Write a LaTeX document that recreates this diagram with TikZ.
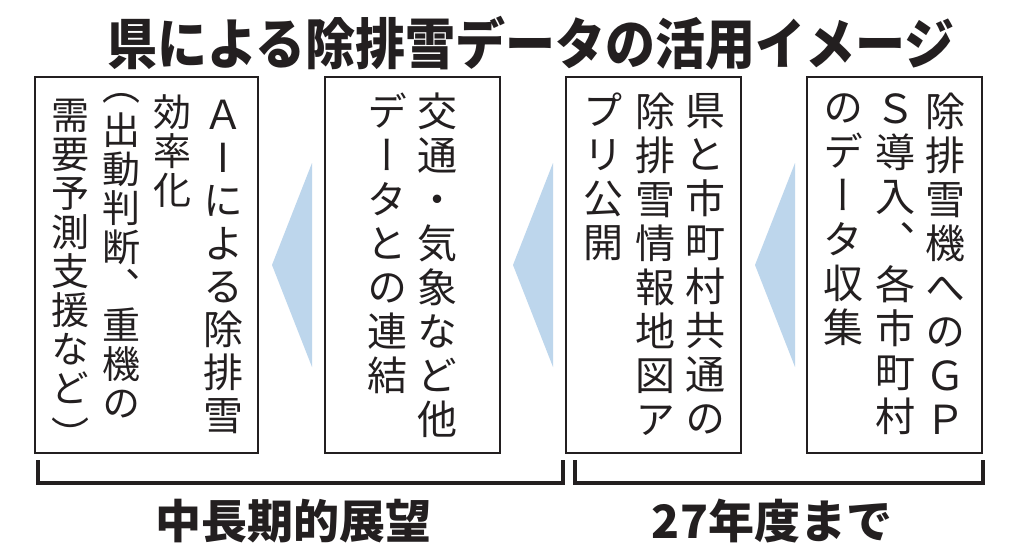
\documentclass[tikz,border=0pt]{standalone}
\usepackage{fontspec}
\newfontfamily\jp{Noto Sans CJK JP}
\newfontfamily\jpv[RawFeature=+vert]{Noto Sans CJK JP}
\definecolor{inkc}{HTML}{231F20}
\definecolor{arrowc}{RGB}{189,214,236}
\begin{document}
\begin{tikzpicture}[x=1pt,y=-1pt,
  box/.style={draw=inkc, line width=2.6pt, inner sep=0pt, minimum height=376pt},
  col/.style={anchor=north, inner sep=0pt, align=center, text=inkc,
    font=\jpv\fontsize{40pt}{44pt}\selectfont},
  colm/.style={anchor=north, inner sep=0pt, align=center, text=inkc,
    font=\jpv\fontsize{40pt}{43pt}\selectfont},
  colt/.style={anchor=north, inner sep=0pt, align=center, text=inkc,
    font=\jpv\fontsize{38pt}{39pt}\selectfont},
  arr/.style={fill=arrowc},
  brk/.style={draw=inkc, line width=4pt, line join=miter},
  ttl/.style={inner sep=0pt, text=inkc, font=\jp\bfseries\fontsize{50pt}{50pt}\selectfont},
  lab/.style={inner sep=0pt, text=inkc, font=\jp\bfseries\fontsize{46pt}{46pt}\selectfont}]
\useasboundingbox (0,0) rectangle (1024,558);
\fill[white] (0,0) rectangle (1024,558);
% title
\node[ttl] (title) at (531,43) {\scalebox{1}[1.1]{県による除排雪データの活用イメージ}};
% boxes
\node[box, minimum width=223pt] (b4) at (146.5,265) {};
\node[box, minimum width=175pt] (b3) at (412.5,265) {};
\node[box, minimum width=175pt] (b2) at (653.5,265) {};
\node[box, minimum width=175pt] (b1) at (894.5,265) {};
% box 1
\node[col] (b1c1) at (945,93) {除\\排\\雪\\機\\へ\\の\\Ｇ\\Ｐ};
\node[col] (b1c2) at (895,93) {Ｓ\\導\\入\\、\\各\\市\\町\\村};
\node[col] (b1c3) at (843,93) {の\\デ\\ー\\タ\\収\\集};
% box 2
\node[col] (b2c1) at (705,93) {県\\と\\市\\町\\村\\共\\通\\の};
\node[col] (b2c2) at (655,93) {除\\排\\雪\\情\\報\\地\\図\\ア};
\node[col] (b2c3) at (603,93) {プ\\リ\\公\\開};
% box 3
\node[col] (b3c1) at (437,93) {交\\通\\・\\気\\象\\な\\ど\\他};
\node[col] (b3c2) at (387,93) {デ\\ー\\タ\\と\\の\\連\\結};
% box 4
\node[colm] (b4c1) at (223,100) {Ａ\\I\\に\\よ\\る\\除\\排\\雪};
\node[colt] (b4c2) at (172,94) {効\\率\\化};
\node[colt] (b4c3) at (121,93) {（\\[5pt]出\\動\\判\\断\\、\\重\\機\\の};
\node[colt] (b4c4) at (70,99) {需\\要\\予\\測\\支\\援\\な\\ど\\[8pt]）};
% arrows
\fill[arr] (272,265) -- (312,163) -- (312,367) -- cycle;
\fill[arr] (513,265) -- (553,163) -- (553,367) -- cycle;
\fill[arr] (755,265) -- (795,163) -- (795,367) -- cycle;
% brackets
\coordinate (k1a) at (38,460); \coordinate (k1b) at (563,460);
\coordinate (k2a) at (575,460); \coordinate (k2b) at (983,460);
\draw[brk] (k1a) -- ++(0,23) -| (k1b);
\draw[brk] (k2a) -- ++(0,23) -| (k2b);
\node[lab] (lab1) at (293,521) {中長期的展望};
\node[lab] (lab2) at (772,521) {27年度まで};
\end{tikzpicture}
\end{document}
